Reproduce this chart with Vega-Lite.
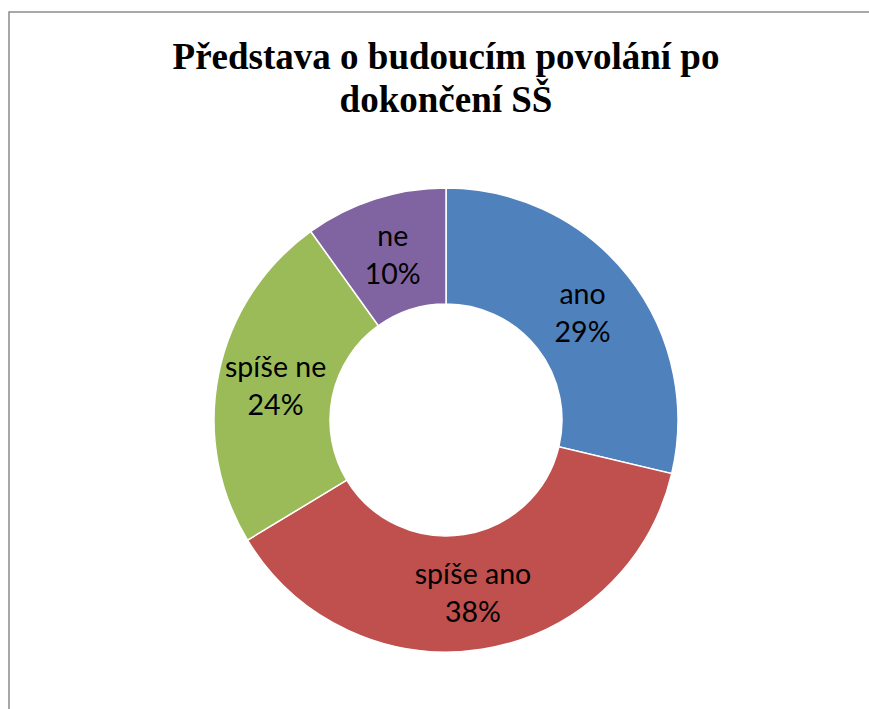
{
  "$schema": "https://vega.github.io/schema/vega-lite/v6.json",
  "autosize": "none",
  "padding": {"left": 9, "top": 12, "right": -14, "bottom": -119},
  "width": 874,
  "height": 816,
  "background": "white",
  "view": {"stroke": "#8c8c8c", "strokeWidth": 1.5, "fill": "white"},
  "title": {
    "text": ["Představa o budoucím povolání po", "dokončení SŠ"],
    "font": "Liberation Serif",
    "fontSize": 37,
    "fontWeight": "bold",
    "color": "black",
    "anchor": "middle",
    "lineHeight": 43,
    "offset": -108
  },
  "data": {
    "values": [
      {"kategorie": "ano", "podil": 0.29, "poradi": 1},
      {"kategorie": "spíše ano", "podil": 0.38, "poradi": 2},
      {"kategorie": "spíše ne", "podil": 0.24, "poradi": 3},
      {"kategorie": "ne", "podil": 0.10, "poradi": 4}
    ]
  },
  "encoding": {
    "theta": {"field": "podil", "type": "quantitative", "stack": true},
    "order": {"field": "poradi", "type": "quantitative"}
  },
  "layer": [
    {
      "mark": {"type": "arc", "radius": 232, "radius2": 116, "stroke": "white", "strokeWidth": 1.5},
      "encoding": {
        "color": {
          "field": "kategorie",
          "type": "nominal",
          "scale": {"domain": ["ano", "spíše ano", "spíše ne", "ne"], "range": ["#4F81BD", "#C0504D", "#9BBB59", "#8064A2"]},
          "legend": null
        }
      }
    },
    {
      "mark": {"type": "text", "radius": 174, "font": "Lato", "fontSize": 28.5, "color": "black", "baseline": "middle", "align": "center", "dy": -17},
      "encoding": {"text": {"field": "kategorie", "type": "nominal"}}
    },
    {
      "mark": {"type": "text", "radius": 174, "font": "Lato", "fontSize": 28.5, "color": "black", "baseline": "middle", "align": "center", "dy": 21},
      "encoding": {"text": {"field": "podil", "type": "quantitative", "format": ".0%"}}
    }
  ]
}
